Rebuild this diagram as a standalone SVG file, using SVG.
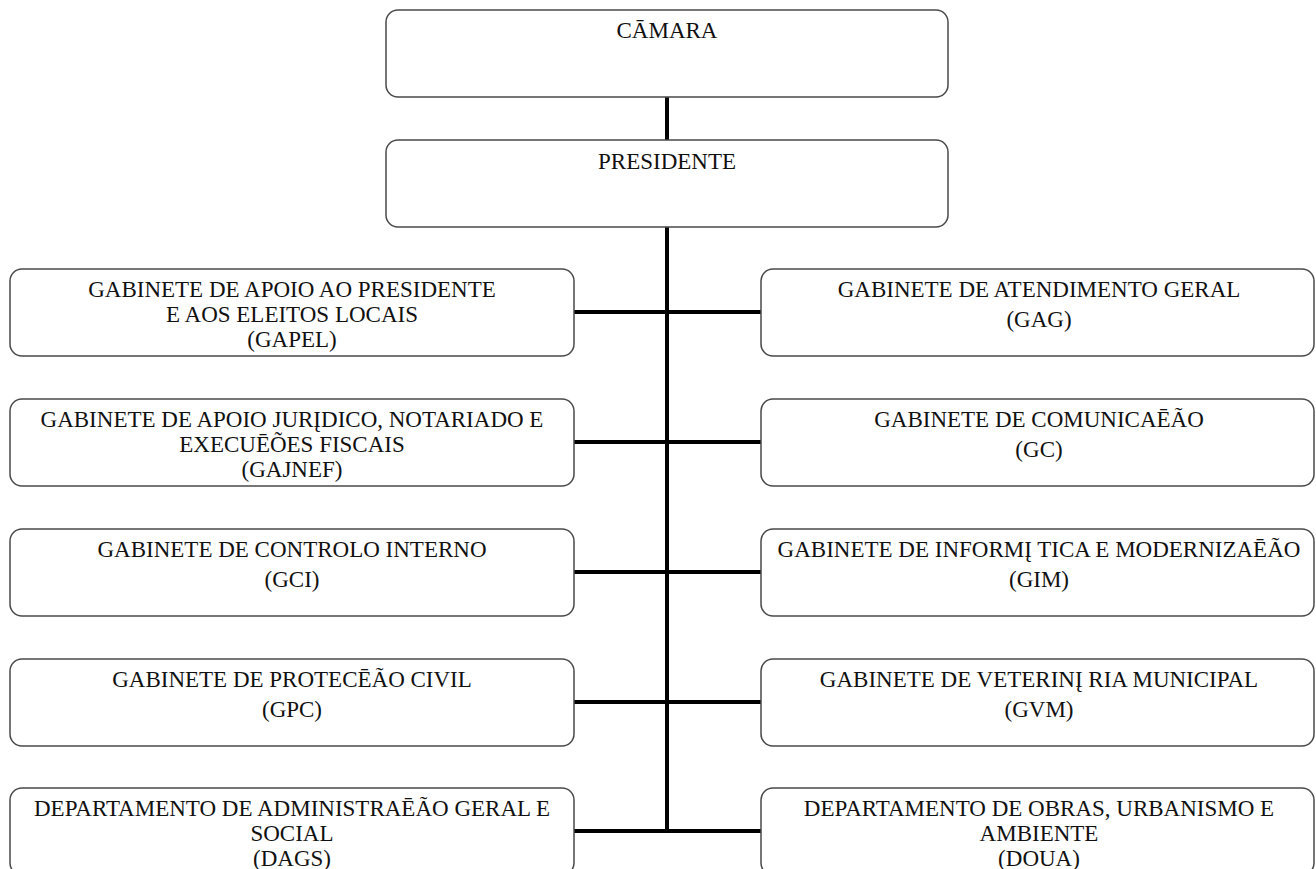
<svg xmlns="http://www.w3.org/2000/svg" width="1316" height="869" viewBox="0 0 1316 869">
<style>
.box{fill:#fff;stroke:#4a4a4a;stroke-width:1.5}
.t{font-family:"Liberation Serif","Times New Roman",serif;font-size:23px;fill:#111;text-anchor:middle}
.c{stroke:#000;stroke-width:4;fill:none}
</style>
<rect width="1316" height="869" fill="#fff"/>
<g id="connectors">
<line class="c" x1="667" y1="97" x2="667" y2="140"/>
<line class="c" x1="667" y1="227" x2="667" y2="833"/>
<line class="c" x1="574" y1="312" x2="761" y2="312"/>
<line class="c" x1="574" y1="442" x2="761" y2="442"/>
<line class="c" x1="574" y1="572" x2="761" y2="572"/>
<line class="c" x1="574" y1="702" x2="761" y2="702"/>
<line class="c" x1="574" y1="831" x2="761" y2="831"/>
</g>
<g id="camara">
<rect class="box" x="386" y="10" width="562" height="87" rx="12"/>
<text class="t" x="667" y="38">CĀMARA</text>
</g>
<g id="presidente">
<rect class="box" x="386" y="140" width="562" height="87" rx="12"/>
<text class="t" x="667" y="169">PRESIDENTE</text>
</g>
<g id="gapel">
<rect class="box" x="10" y="269" width="564" height="87" rx="12"/>
<text class="t" x="292" y="297">GABINETE DE APOIO AO PRESIDENTE</text>
<text class="t" x="292" y="322">E AOS ELEITOS LOCAIS</text>
<text class="t" x="292" y="347">(GAPEL)</text>
</g>
<g id="gajnef">
<rect class="box" x="10" y="399" width="564" height="87" rx="12"/>
<text class="t" x="292" y="427">GABINETE DE APOIO JURĮDICO, NOTARIADO E</text>
<text class="t" x="292" y="452">EXECUĒÕES FISCAIS</text>
<text class="t" x="292" y="477">(GAJNEF)</text>
</g>
<g id="gci">
<rect class="box" x="10" y="529" width="564" height="87" rx="12"/>
<text class="t" x="292" y="557">GABINETE DE CONTROLO INTERNO</text>
<text class="t" x="292" y="587">(GCI)</text>
</g>
<g id="gpc">
<rect class="box" x="10" y="659" width="564" height="87" rx="12"/>
<text class="t" x="292" y="687">GABINETE DE PROTECĒÃO CIVIL</text>
<text class="t" x="292" y="717">(GPC)</text>
</g>
<g id="dags">
<rect class="box" x="10" y="788" width="564" height="87" rx="12"/>
<text class="t" x="292" y="816">DEPARTAMENTO DE ADMINISTRAĒÃO GERAL E</text>
<text class="t" x="292" y="841">SOCIAL</text>
<text class="t" x="292" y="866">(DAGS)</text>
</g>
<g id="gag">
<rect class="box" x="761" y="269" width="553" height="87" rx="12"/>
<text class="t" x="1039" y="297">GABINETE DE ATENDIMENTO GERAL</text>
<text class="t" x="1039" y="327">(GAG)</text>
</g>
<g id="gc">
<rect class="box" x="761" y="399" width="553" height="87" rx="12"/>
<text class="t" x="1039" y="427">GABINETE DE COMUNICAĒÃO</text>
<text class="t" x="1039" y="457">(GC)</text>
</g>
<g id="gim">
<rect class="box" x="761" y="529" width="553" height="87" rx="12"/>
<text class="t" x="1039" y="557">GABINETE DE INFORMĮ TICA E MODERNIZAĒÃO</text>
<text class="t" x="1039" y="587">(GIM)</text>
</g>
<g id="gvm">
<rect class="box" x="761" y="659" width="553" height="87" rx="12"/>
<text class="t" x="1039" y="687">GABINETE DE VETERINĮ RIA MUNICIPAL</text>
<text class="t" x="1039" y="717">(GVM)</text>
</g>
<g id="doua">
<rect class="box" x="761" y="788" width="553" height="87" rx="12"/>
<text class="t" x="1039" y="816">DEPARTAMENTO DE OBRAS, URBANISMO E</text>
<text class="t" x="1039" y="841">AMBIENTE</text>
<text class="t" x="1039" y="866">(DOUA)</text>
</g>
</svg>
